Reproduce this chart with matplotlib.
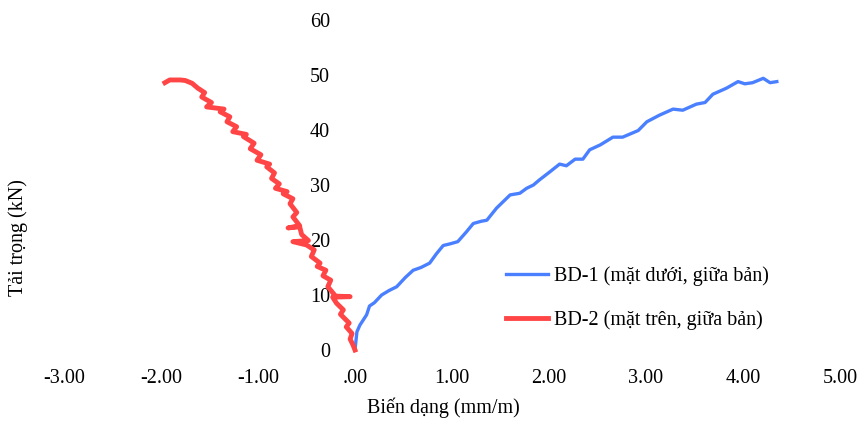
import matplotlib.pyplot as plt
from matplotlib.ticker import FuncFormatter, MultipleLocator

plt.rcParams['font.family'] = ['Liberation Serif', 'DejaVu Serif']

# BD-1 (bottom face, mid-span)
bd1_strain = [0.0, 0.02, 0.05, 0.12, 0.15, 0.20, 0.275, 0.35, 0.43, 0.52, 0.60, 0.68,
              0.77, 0.84, 0.91, 0.98, 1.06, 1.10, 1.15, 1.22, 1.30, 1.36, 1.46, 1.53,
              1.60, 1.70, 1.77, 1.84, 1.90, 2.01, 2.11, 2.18, 2.27, 2.35, 2.42, 2.53,
              2.66, 2.76, 2.84, 2.92, 3.01, 3.14, 3.28, 3.38, 3.52, 3.61, 3.69, 3.83,
              3.95, 4.02, 4.10, 4.21, 4.28, 4.35]
bd1_load = [0.0, 3.3, 4.5, 6.4, 8.0, 8.6, 10.0, 10.8, 11.5, 13.2, 14.5, 15.0,
            15.8, 17.5, 19.0, 19.3, 19.7, 20.5, 21.5, 23.0, 23.4, 23.6, 25.8, 27.0,
            28.2, 28.5, 29.4, 30.0, 30.9, 32.4, 33.8, 33.5, 34.7, 34.7, 36.4, 37.3,
            38.7, 38.7, 39.3, 39.9, 41.5, 42.7, 43.8, 43.6, 44.7, 45.0, 46.5, 47.6,
            48.8, 48.4, 48.6, 49.4, 48.6, 48.8]

# BD-2 (top face, mid-span)
bd2_strain = [0.0, -0.02, -0.05, -0.03, -0.09, -0.06, -0.15, -0.12, -0.19, -0.23, -0.05,
              -0.20, -0.28, -0.25, -0.33, -0.30, -0.39, -0.36, -0.45, -0.42, -0.50, -0.64,
              -0.48, -0.55, -0.57, -0.69, -0.57, -0.64, -0.60, -0.67, -0.64, -0.74, -0.70,
              -0.82, -0.78, -0.86, -0.83, -0.91, -0.88, -1.01, -0.97, -1.08, -1.04, -1.15,
              -1.12, -1.26, -1.22, -1.32, -1.29, -1.39, -1.35, -1.53, -1.48, -1.58, -1.55,
              -1.62, -1.68, -1.75, -1.80, -1.91, -1.96]
bd2_load = [0.0, 0.9, 2.0, 3.0, 4.2, 4.9, 6.5, 7.3, 8.5, 9.6, 9.7,
            9.8, 11.5, 12.7, 13.5, 14.5, 15.2, 15.8, 17.0, 18.2, 19.1, 19.7,
            19.9, 21.0, 22.4, 22.2, 22.6, 24.2, 25.0, 26.6, 27.5, 28.4, 28.8,
            29.4, 30.2, 31.2, 32.2, 33.3, 33.8, 34.5, 35.5, 36.6, 37.6, 38.8,
            39.2, 39.7, 40.6, 41.5, 42.4, 43.3, 43.8, 44.2, 45.0, 46.0, 46.8,
            47.6, 48.5, 49.0, 49.1, 49.1, 48.6]

labels = ["BD-1 (mặt dưới, giữa bản)", "BD-2 (mặt trên, giữa bản)"]

fig = plt.figure(figsize=(8.63, 4.22), dpi=100)
ax = fig.add_axes([0.0742, 0.1706, 0.899, 0.782])

ax.plot(bd1_strain, bd1_load, color="#4A80FF", lw=2.4, label=labels[0], clip_on=False)
ax.plot(bd2_strain, bd2_load, color="#FF4545", lw=3.5, label=labels[1], clip_on=False)

ax.set_xlim(-3, 5)
ax.set_ylim(0, 60)
ax.xaxis.set_major_locator(MultipleLocator(1))
ax.yaxis.set_major_locator(MultipleLocator(10))


def fmt_x(v, pos):
    s = f"{v:.2f}"
    if s in ("0.00", "-0.00"):
        return ".00"
    return s


ax.xaxis.set_major_formatter(FuncFormatter(fmt_x))
ax.spines["left"].set_position(("data", 0))
for sp in ax.spines.values():
    sp.set_visible(False)
ax.tick_params(axis="y", length=0, pad=18, labelsize=14.5)
ax.tick_params(axis="x", length=0, pad=14, labelsize=14.5)

fig.text(443 / 863, 1 - 408 / 422, "Biến dạng (mm/m)", ha="center", va="center", fontsize=14.5)
fig.text(18 / 863, 1 - 238 / 422, "Tải trọng (kN)", ha="center", va="center",
         rotation=90, fontsize=14.5)

ax.legend(loc="upper left", bbox_to_anchor=(498 / 863, 1 - 258 / 422),
          bbox_transform=fig.transFigure, frameon=False, fontsize=14.5,
          handlelength=2.1, handletextpad=0.3, labelspacing=1.2, borderaxespad=0)

fig.savefig("out.png", dpi=100)
